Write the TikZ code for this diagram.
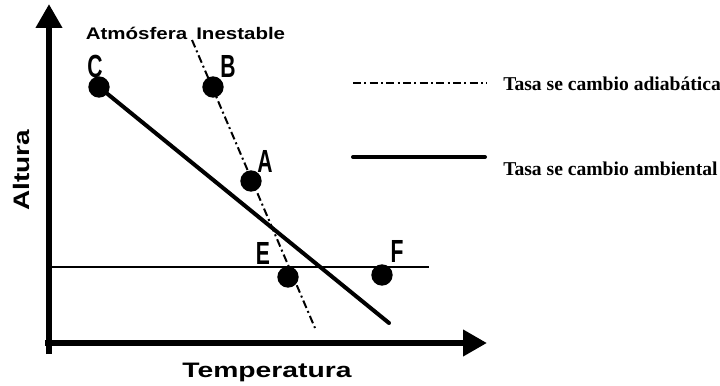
\documentclass[tikz,border=0pt]{standalone}
\usepackage{fontspec}
\setmainfont{Liberation Serif}
\newfontfamily\sansb{Liberation Sans}
\usetikzlibrary{arrows.meta}
\begin{document}
\begin{tikzpicture}[x=0.75pt,y=-0.75pt,
  dot/.style={circle,fill=black,inner sep=0pt,minimum size=16pt},
  letter/.style={font=\sansb\bfseries\fontsize{24}{24}\selectfont,xscale=0.66,inner sep=0pt},
  axis/.style={line width=4.8pt,-{Triangle[length=18pt,width=19pt]}},
  adiab/.style={line width=1.5pt,dash pattern=on 6pt off 2.5pt on 1.5pt off 2.5pt},
  ambient/.style={line width=3pt},
  legtext/.style={font=\fontsize{14.7}{14.7}\selectfont\bfseries,anchor=west,inner sep=0pt}]
\useasboundingbox (0,0) rectangle (720,385);
% axes
\coordinate (orig) at (49,343);
\coordinate (ytop) at (49,4);
\coordinate (xend) at (487,343);
\coordinate (ybot) at (49,354);
\draw[line width=4.8pt] (ybot) -- (orig);
\draw[axis] (orig) -- (ytop);
\draw[axis] ([xshift=-3]orig) -- (xend);
% horizontal reference line
\coordinate (h1) at (50,267);
\coordinate (h2) at (429,267);
\draw[line width=1.1pt] (h1) -- (h2);
% dots
\node[dot] (C) at (99,87) {};
\node[dot] (B) at (213,87) {};
\node[dot] (A) at (251,181) {};
\node[dot] (E) at (288,277) {};
\node[dot] (F) at (382,275) {};
% adiabatic line
\coordinate (d1) at (192,40);
\coordinate (d2) at (315,328);
\draw[adiab] (d1) -- (d2);
% ambient line
\coordinate (s2) at (389,323);
\draw[ambient,line cap=round] (C.center) -- (s2);
% letters
\node[letter] (lC) at (95,66) {C};
\node[letter] (lB) at (228,66) {B};
\node[letter] (lA) at (265,161) {A};
\node[letter] (lE) at (263,253) {E};
\node[letter] (lF) at (397,251) {F};
% titles
\node[font=\sansb\bfseries\fontsize{12.6}{12.6}\selectfont,inner sep=0pt,xscale=1.22] (title) at (185.5,33) {Atmósfera\, Inestable};
\node[font=\sansb\bfseries\fontsize{16.8}{16.8}\selectfont,inner sep=0pt,rotate=90,xscale=1.25] (yl) at (21,170) {Altura};
\node[font=\sansb\bfseries\fontsize{15.7}{15.7}\selectfont,inner sep=0pt,xscale=1.35] (xl) at (267,372) {Temperatura};
% legend
\coordinate (la1) at (353,83);
\coordinate (la2) at (487,83);
\draw[adiab,line width=1.2pt] (la1) -- (la2);
\node[legtext] (ta) at (503,84) {Tasa se cambio adiabática};
\coordinate (lb1) at (353,157);
\coordinate (lb2) at (485,157);
\draw[ambient,line cap=round] (lb1) -- (lb2);
\node[legtext] (tb) at (503,169) {Tasa se cambio ambiental};
\end{tikzpicture}
\end{document}
